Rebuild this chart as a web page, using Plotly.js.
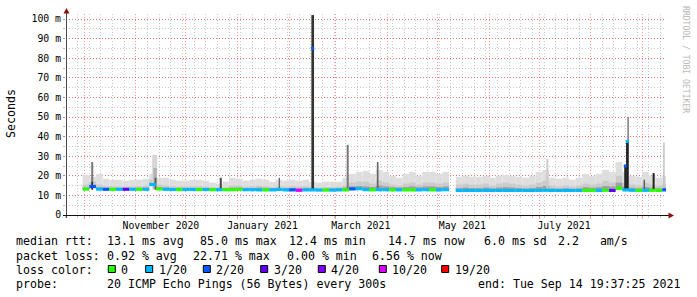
<!DOCTYPE html>
<html><head><meta charset="utf-8">
<script src="https://cdn.plot.ly/plotly-3.0.1.min.js"></script>
<style>html,body{margin:0;padding:0;background:#fff}#chart{width:697px;height:297px}</style>
</head><body><div id="chart"></div>
<script>
// ---- data (4-day bins starting 2020-09-30) ----
const binStart = '2020-09-30';
const binDays = 4;
const median = [13.2,14.5,13.2,13.1,13.1,13.1,13.1,13.1,13.1,13.1,
 15.5,13.3,13.1,13.0,13.0,13.0,13.0,13.0,13.0,12.9,
 12.9,12.9,12.9,13.1,12.9,12.9,12.8,12.8,12.8,13.0,
 12.8,12.8,12.6,12.8,12.8,12.7,12.7,12.7,12.8,12.8,
 13.3,13.4,12.9,12.8,12.9,12.9,12.8,12.8,12.8,12.8,
 12.8,12.9,12.8,12.8,12.9,null,12.5,12.5,12.5,12.5,
 12.5,12.5,12.5,12.5,12.5,12.5,12.5,12.5,12.5,12.6,
 12.5,12.5,12.5,12.5,12.5,12.5,12.5,12.5,12.6,12.5,
 13.6,12.8,12.6,12.5,12.6,12.6,12.5,12.8];
const loss = [0,2,1,2,0,1,3,1,0,1,
 1,0,1,1,0,1,1,0,1,0,
 1,0,0,0,1,1,1,0,1,1,
 1,2,10,1,1,1,0,1,1,0,
 2,1,1,0,1,1,0,1,0,0,
 1,1,0,1,1,null,1,1,1,1,
 1,1,1,1,1,1,1,1,1,1,
 1,1,1,1,1,0,0,1,0,3,
 0,1,1,0,1,0,0,2];
const smokeTop = [20.5,19.5,21,18.5,18,18,17.5,18,18,18.5,
 21,19,19,18,17.5,17.5,18,18,17.5,16.5,
 16,17,19,18.5,17.5,18,18.5,18,17,18,
 17.5,18,17.5,18,17,16.5,17,17,17,19,
 21,22,22.5,21,23,22,20,19,21,22,
 20,22,22,21,22,null,19.5,20,19.5,19.5,
 20,19,20,20.5,20,19.5,19,20,22,23,
 19,18.5,19,18,19,21,20,21,23,22,
 27,22,20,19.5,22,20,19,20];
const smokeMid = [15.5,17,15.5,14.7,14.7,14.5,14.5,14.5,14.7,15,
 18,15.5,15,14.7,14.5,14.5,14.7,14.7,14.5,14.2,
 14,14.2,15,15,14.5,14.7,15,14.7,14.2,14.7,
 14.5,14.7,14.5,14.7,14.2,14,14.2,14.2,14.5,15,
 16.5,17,17,16,17.5,16.5,15.5,15,16,16.5,
 15.5,16.5,16.5,16,16.5,null,15.5,16,15.5,15.5,
 16,15,16,16.5,16,15.5,15,15.5,16.5,17.5,
 15,14.5,15,14.5,15,16,15.5,16,17.5,16.5,
 20,16.5,15.5,15,16.5,15.5,15,15.5];
const smokeDark = [14,15.5,14,13.8,13.8,13.8,13.8,13.8,13.8,14,
 16.5,14.2,14,13.8,13.8,13.8,13.8,13.8,13.7,13.6,
 13.5,13.6,14,14,13.7,13.8,14,13.8,13.6,13.8,
 13.7,13.8,13.6,13.8,13.5,13.4,13.5,13.5,13.6,14,
 14.6,14.8,14.6,14.3,15,14.6,14.2,14,14.3,14.6,
 14.2,14.6,14.6,14.3,14.6,null,13.7,14,13.7,13.7,
 14,13.6,14,14.2,14,13.7,13.5,13.7,14.3,14.8,
 13.6,13.4,13.6,13.4,13.6,14.2,13.9,14.2,14.8,14.5,
 16.5,14.5,13.9,13.6,14.3,13.9,13.6,13.9];

// isolated spikes
const spikeDates = ['2020-10-05 18:00','2020-10-05 18:00','2020-11-12 06:00','2020-11-12 12:00','2020-11-12 18:00',
 '2020-12-21 22:00','2021-01-26 02:00','2021-02-15 03:00','2021-03-08 03:00','2021-03-26 03:00',
 '2021-07-06 00:00','2021-08-23 12:00','2021-08-23 00:00','2021-08-21 18:00','2021-09-02 05:00',
 '2021-09-07 19:00','2021-09-14 00:00'];
const spikeBase = [13,13,13,13,13,13,13,13,13,13,12.6,12.6,12.6,12.6,12.6,12.6,12.6];
const spikeTop = [27,17,30.7,24,19,19,19,102,35.8,27,28.7,50,38,25,18,21.4,37];
const spikeShade = ['#777','#222','#d6d6d6','#b0b0b0','#555','#444','#666','#333','#777','#666',
 '#cccccc','#888','#222','#222','#555','#222','#bbbbbb'];
const spikeWidthDays = [1.2,0.8,3,2,1,1.2,0.8,1.6,1.2,1,1.2,1,1.5,1.2,0.8,1.2,0.8];

const medSpikeDates = ['2021-02-15 03:00','2021-08-21 18:00','2021-08-23 00:00'];
const medSpikeVals = [85.0,25,37.5];
const medSpikeLoss = [2,2,1];

const lossLevels = [0,1,2,3,4,10,19];
const lossColors = ['#26ff00','#00b8ff','#0059ff','#5e00ff','#7e00ff','#dd00ff','#ff0000'];
const lossLabels = ['0','1/20','2/20','3/20','4/20','10/20','19/20'];

const xLabelDates = ['2020-11-16','2021-01-16','2021-03-16','2021-05-16','2021-07-16'];
const xLabelText = ['November 2020','January 2021','March 2021','May 2021','July 2021'];
const yTickVals = [0,10,20,30,40,50,60,70,80,90,100];
const yTickText = ['0','10 m','20 m','30 m','40 m','50 m','60 m','70 m','80 m','90 m','100 m'];

const legendRows = [
 {y:241, items:[[16,'median rtt:'],[107.3,'13.1 ms avg'],[200,'85.0 ms max'],[289.3,'12.4 ms min'],[387.7,'14.7 ms now'],[484.3,'6.0 ms sd'],[558.3,'2.2   am/s']]},
 {y:255.7, items:[[16,'packet loss:'],[107.3,'0.92 % avg'],[192.7,'22.71 % max'],[286.7,'0.00 % min'],[372.3,'6.56 % now']]},
 {y:270, items:[[16,'loss color:']]},
 {y:284.3, items:[[16,'probe:'],[107.3,'20 ICMP Echo Pings (56 Bytes) every 300s'],[477.7,'end: Tue Sep 14 19:37:25 2021']]}
];
const lossBoxX = [108.3,145.7,203.3,260.7,318.3,379.3,441.7];

// ---- build ----
const DAY = 86400000;
const colorOf = l => l == null ? 'rgba(0,0,0,0)' : lossColors[lossLevels.indexOf(l)];
const diff = (a,b) => a.map((v,i) => (v==null||b[i]==null) ? null : v - b[i]);
const MONO = 'DejaVu Sans Mono';

function smokeBar(top, color){
  return {type:'bar', x0:binStart, dx:binDays*DAY, y:diff(top, median), base:median,
    width:binDays*DAY, offset:0, marker:{color:color, line:{width:0}}, hoverinfo:'skip'};
}
const bandH = 1.6;
const traces = [
  smokeBar(smokeTop,'#dedede'),
  smokeBar(smokeMid,'#cbcbcb'),
  smokeBar(smokeDark,'#a0a0a0'),
  {type:'bar', x:spikeDates, base:spikeBase, y:diff(spikeTop, spikeBase),
   width:spikeWidthDays.map(d=>d*DAY), offset:spikeWidthDays.map(d=>-d*DAY/2),
   marker:{color:spikeShade, line:{width:0}}, hoverinfo:'skip'},
  {type:'bar', x0:binStart, dx:binDays*DAY, y:median.map(v=>v==null?null:bandH),
   base:median.map(v=>v==null?null:v-bandH/2), width:binDays*DAY, offset:0,
   marker:{color:loss.map(colorOf), line:{width:0}}, hoverinfo:'skip'},
  {type:'scatter', mode:'markers', x:medSpikeDates, y:medSpikeVals,
   marker:{symbol:'square', size:3, color:medSpikeLoss.map(colorOf), line:{width:0}}, hoverinfo:'skip'},
  {type:'scatter', mode:'markers', x:xLabelDates, y:xLabelDates.map(()=>null), xaxis:'x2', hoverinfo:'skip'}
];

const PL=66, PW=600, PB=215, PH=201;
const px = x => (x-PL)/PW, py = y => (PB-y)/PH;
const xRange = ['2020-09-20 00:15','2021-09-15 05:30'];
const redGrid = 'rgba(255,0,0,0.42)', grayGrid = 'rgba(127,127,127,0.42)';

const annotations = [];
legendRows.forEach(r => r.items.forEach(([x,t]) => annotations.push({
  xref:'paper', yref:'paper', x:px(x-1), y:py(r.y), xanchor:'left', yanchor:'middle',
  text:t.replace(/ /g,'&nbsp;'), showarrow:false, font:{family:MONO, size:11.6, color:'#000'}, borderpad:0})));
lossLabels.forEach((t,i) => annotations.push({
  xref:'paper', yref:'paper', x:px(lossBoxX[i]+12), y:py(270), xanchor:'left', yanchor:'middle',
  text:t, showarrow:false, font:{family:MONO, size:11.6, color:'#000'}, borderpad:0}));
annotations.push({xref:'paper', yref:'paper', x:px(11), y:py(114), xanchor:'center', yanchor:'middle',
  text:'Seconds', textangle:-90, showarrow:false, font:{family:MONO, size:11.6, color:'#000'}, borderpad:0});
annotations.push({xref:'paper', yref:'paper', x:px(686), y:py(59), xanchor:'center', yanchor:'middle',
  text:'RRDTOOL / TOBI OETIKER', textangle:90,
  showarrow:false, font:{family:MONO, size:8.1, color:'#b8b8b8'}, borderpad:0});

const shapes = [];
lossColors.forEach((c,i) => shapes.push({type:'rect', xref:'paper', yref:'paper',
  x0:px(lossBoxX[i]), x1:px(lossBoxX[i]+7), y0:py(272.5), y1:py(265.5), fillcolor:c, line:{color:'#000', width:1}}));
shapes.push({type:'line', xref:'paper', yref:'paper', x0:px(66.5), x1:px(66.5), y0:py(218), y1:py(12), line:{color:'#4a4a4a', width:1}});
shapes.push({type:'line', xref:'paper', yref:'paper', x0:px(63), x1:px(669), y0:py(215.5), y1:py(215.5), line:{color:'#111', width:1}});
shapes.push({type:'path', xref:'paper', yref:'paper',
  path:`M ${px(63.5)} ${py(13.5)} L ${px(66.5)} ${py(8)} L ${px(69.5)} ${py(13.5)} Z`, fillcolor:'#8b1010', line:{width:0}});
shapes.push({type:'path', xref:'paper', yref:'paper',
  path:`M ${px(668.5)} ${py(212.5)} L ${px(674)} ${py(215.5)} L ${px(668.5)} ${py(218.5)} Z`, fillcolor:'#8b1010', line:{width:0}});

const layout = {
  width:697, height:297, margin:{l:PL, r:697-PL-PW, t:14, b:297-PB, pad:0},
  paper_bgcolor:'#fff', plot_bgcolor:'#fff', barmode:'overlay', showlegend:false,
  font:{family:MONO, color:'#000'},
  xaxis:{type:'date', range:xRange, tickmode:'linear', tick0:'2020-10-01', dtick:'M1', showticklabels:false,
    showgrid:true, gridcolor:redGrid, griddash:'1px,2px', gridwidth:1, ticks:'outside', ticklen:3, tickcolor:redGrid,
    zeroline:false, showline:false, fixedrange:true,
    minor:{tickmode:'linear', tick0:'2020-09-20', dtick:7*DAY, showgrid:true, gridcolor:grayGrid, griddash:'1px,2px',
      ticks:'outside', ticklen:2, tickcolor:grayGrid}},
  xaxis2:{type:'date', overlaying:'x', anchor:'y', side:'bottom', range:xRange, tickmode:'array',
    tickvals:xLabelDates, ticktext:xLabelText, ticks:'', showgrid:false, zeroline:false, showline:false,
    ticklabelstandoff:3, tickfont:{family:MONO, size:9.8, color:'#000'}, fixedrange:true},
  yaxis:{range:[0,102.55], tickmode:'array', tickvals:yTickVals, ticktext:yTickText, showgrid:true,
    gridcolor:redGrid, griddash:'1px,2px', ticks:'outside', ticklen:2, tickcolor:'#999',
    tickfont:{family:MONO, size:9.8, color:'#000'}, zeroline:false, showline:false, fixedrange:true,
    minor:{tickmode:'linear', tick0:0, dtick:5, showgrid:true, gridcolor:grayGrid, griddash:'1px,2px',
      ticks:'outside', ticklen:2, tickcolor:'#bbb'}},
  annotations:annotations, shapes:shapes
};
Plotly.newPlot('chart', traces, layout, {staticPlot:true, displayModeBar:false});
</script></body></html>
